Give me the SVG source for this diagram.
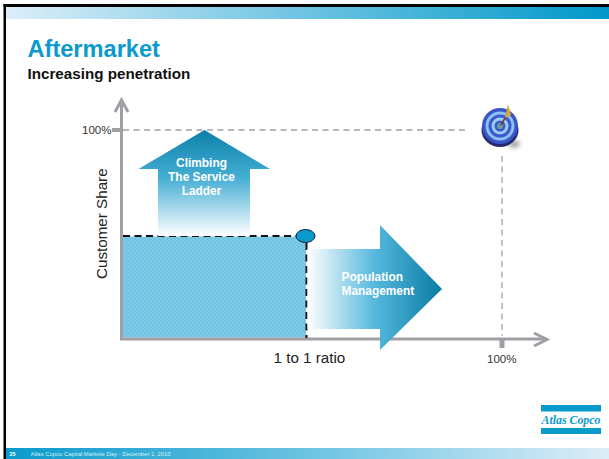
<svg xmlns="http://www.w3.org/2000/svg" width="609" height="459" viewBox="0 0 609 459">
<style>
text{font-family:"Liberation Sans",Arial,sans-serif}
.axis{stroke:#a0a0a4;stroke-width:3;fill:none}
.guide{stroke:#a0a0a4;stroke-width:1.3;fill:none;stroke-dasharray:6 4.5}
.edge{stroke:#111;stroke-width:2;fill:none;stroke-dasharray:7 4.5}
.lab{fill:#fff;font-weight:bold;font-size:11.9px}
.tick{fill:#333;font-size:11.5px}
.big{fill:#222;font-size:15.2px}
</style>
<defs>
<linearGradient id="top" x1="0" x2="1" y1="0" y2="0"><stop offset="0" stop-color="#dceef8"/><stop offset=".5" stop-color="#6cc3e2"/><stop offset="1" stop-color="#0098c9"/></linearGradient>
<linearGradient id="bot" x1="0" x2="1" y1="0" y2="0"><stop offset="0" stop-color="#0a9acb"/><stop offset=".5" stop-color="#6cc3e2"/><stop offset="1" stop-color="#dceef8"/></linearGradient>
<linearGradient id="up" x1="0" x2="0" y1="0" y2="1"><stop offset="0" stop-color="#0c80a9"/><stop offset=".45" stop-color="#45aed4"/><stop offset="1" stop-color="#ffffff"/></linearGradient>
<linearGradient id="right" x1="0" x2="1" y1="0" y2="0"><stop offset="0" stop-color="#ffffff"/><stop offset=".5" stop-color="#55b8dc"/><stop offset="1" stop-color="#0a7ca5"/></linearGradient>
<pattern id="chk" width="4" height="4" patternUnits="userSpaceOnUse"><rect width="4" height="4" fill="#7bcbe6"/><rect width="2" height="2" fill="#74c3e0"/><rect x="2" y="2" width="2" height="2" fill="#74c3e0"/></pattern>
<filter id="soft" x="-30%" y="-30%" width="160%" height="160%"><feGaussianBlur stdDeviation="0.6"/></filter>
<filter id="shadow" x="-50%" y="-50%" width="200%" height="200%"><feGaussianBlur stdDeviation="2"/></filter>
</defs>
<rect width="609" height="459" fill="#fff"/>
<g id="frame">
<rect x="3.500" y="4" width="605.500" height="3" fill="#000"/>
<rect x="3.500" y="4" width="2.500" height="455" fill="#000"/>
<rect x="6" y="7" width="603" height="12" fill="url(#top)"/>
<rect x="6" y="448" width="603" height="11" fill="url(#bot)"/>
<text x="9.500" y="456" font-size="5.500px" font-weight="bold" fill="#fff">25</text>
<text x="30.500" y="456" font-size="5.900px" fill="#d5eef8">Atlas Copco Capital Markets Day - December 1, 2010</text>
</g>
<g id="title">
<text x="27.500" y="57" font-size="23.600px" font-weight="bold" fill="#0a9acb">Aftermarket</text>
<text x="27.500" y="79" font-size="15.200px" font-weight="bold" fill="#111">Increasing penetration</text>
</g>
<g id="share-area"><rect x="122" y="236.500" width="184" height="101" fill="url(#chk)"/></g>
<g id="connectors">
<path class="guide" d="M123 130H467"/>
<path class="guide" d="M502 156V336"/>
<path class="axis" d="M121.500 100V339H547"/>
<path class="axis" d="M115 112L121.500 100L128 112"/>
<path class="axis" d="M534 333L547 339.500L534 346"/>
<rect x="112" y="128" width="9" height="4" fill="#a0a0a4"/>
<rect x="499.500" y="340" width="5" height="8" fill="#a0a0a4"/>
<path class="edge" d="M123 236H297"/>
<path class="edge" d="M306.500 243V338"/>
</g>
<g id="climbing">
<path d="M204.500 130L270 169H250V236H158V169H138.500Z" fill="url(#up)"/>
<text class="lab" x="201.500" y="167" text-anchor="middle">Climbing</text>
<text class="lab" x="201.500" y="181" text-anchor="middle">The Service</text>
<text class="lab" x="201.500" y="195" text-anchor="middle">Ladder</text>
</g>
<g id="population">
<path d="M307.500 249H380V225L442 289L380 350V329H307.500Z" fill="url(#right)"/>
<text class="lab" x="341.500" y="281">Population</text>
<text class="lab" x="341.500" y="295">Management</text>
</g>
<g id="marker"><ellipse cx="305.500" cy="236" rx="9.500" ry="6.500" fill="#0a9acb" stroke="#123" stroke-width="1"/></g>
<g id="labels">
<text class="tick" x="82" y="134">100%</text>
<text class="tick" x="487" y="363">100%</text>
<text class="big" x="0" y="0" transform="translate(106.500 279) rotate(-90)">Customer Share</text>
<text class="big" x="273.500" y="363">1 to 1 ratio</text>
</g>
<g id="target">
<ellipse cx="514" cy="144" rx="6" ry="4" fill="#aaa" filter="url(#shadow)"/>
<g filter="url(#soft)">
<ellipse cx="500" cy="130" rx="18.500" ry="17" fill="#232c6a"/>
<circle cx="500" cy="126" r="18" fill="#3a55c8"/>
<circle cx="500" cy="126" r="14.500" fill="#8cc0f0"/>
<circle cx="500" cy="126" r="11.500" fill="#3a5ad0"/>
<circle cx="500" cy="126" r="8.500" fill="#9ccdf2"/>
<circle cx="500" cy="126" r="5.500" fill="#3a5ad0"/>
<circle cx="500" cy="126" r="3" fill="#6f9a9e"/>
<path d="M501 125L508 113" stroke="#7a3a2a" stroke-width="1.500"/>
<path d="M508 104L511 115L505 118Z" fill="#d8a838"/>
</g>
</g>
<g id="logo">
<rect x="541" y="405" width="60" height="6.500" fill="#0a9acb"/>
<rect x="541" y="428" width="60" height="6" fill="#0a9acb"/>
<text x="541.500" y="424" font-size="12px" font-weight="bold" font-style="italic" textLength="59" lengthAdjust="spacingAndGlyphs" fill="#0a9acb" style="font-family:'Liberation Serif',serif">Atlas Copco</text>
</g>
</svg>
